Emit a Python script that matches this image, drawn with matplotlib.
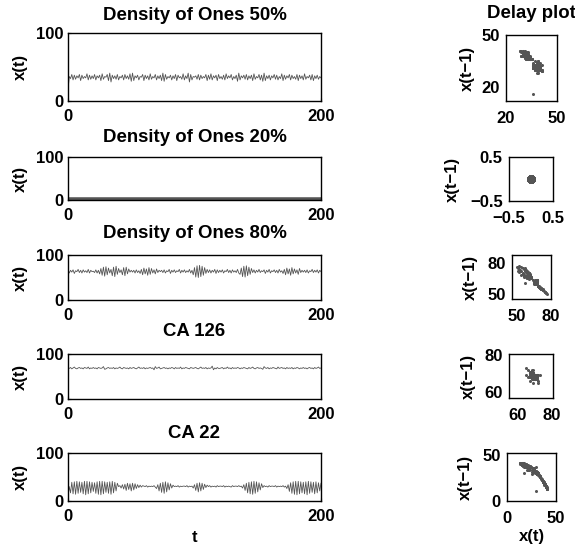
import numpy as np
import matplotlib
matplotlib.use("Agg")
import matplotlib.pyplot as plt

plt.rcParams['font.family'] = ['Liberation Sans', 'DejaVu Sans']
plt.rcParams['font.weight'] = 'bold'
plt.rcParams['axes.labelweight'] = 'bold'
plt.rcParams['axes.titleweight'] = 'bold'
plt.rcParams['font.size'] = 12

titles = ["Density of Ones 50%", "Density of Ones 20%", "Density of Ones 80%", "CA 126", "CA 22"]

d50 = [16,
       36, 33, 39, 31, 38, 32, 37, 34, 39, 30, 38, 33, 36, 34, 40, 31, 38, 32, 37, 33,
       39, 31, 37, 34, 38, 30, 40, 32, 36, 35, 39, 30, 41, 28, 38, 33, 37, 32, 39, 31,
       36, 34, 38, 31, 39, 33, 37, 32, 40, 29, 41, 30, 37, 34, 38, 31, 36, 35, 39, 30,
       38, 33, 37, 31, 40, 32, 36, 34, 39, 31, 37, 33, 38, 30, 41, 29, 39, 32, 36, 34,
       38, 31, 37, 33, 39, 30, 38, 34, 36, 32, 40, 31, 37, 33, 41, 28, 39, 31, 36, 35,
       37, 32, 39, 31, 38, 33, 36, 34, 39, 30, 38, 32, 40, 31, 37, 34, 38, 30, 39, 33,
       36, 32, 38, 31, 40, 33, 37, 34, 39, 31, 36, 33, 38, 29, 41, 31, 37, 34, 38, 32,
       39, 31, 37, 33, 38, 30, 40, 32, 36, 34, 39, 31, 38, 29, 41, 30, 37, 33, 38, 31,
       37, 34, 39, 32, 38, 31, 36, 33, 40, 30, 38, 32, 37, 34, 39, 31, 38, 33, 36, 32,
       39, 30, 38, 33, 37, 31, 40, 32, 36, 34, 38, 31, 39, 30, 37, 33, 38, 32, 36, 34]

d20 = [0] * 201

d80 = [68, 60, 66, 62, 67, 59, 65, 63, 68, 61, 66, 60, 67, 62, 65, 61, 68, 60, 66, 63,
       64, 61, 67, 60, 66,
       58, 70, 55, 73, 53, 74, 56, 71, 60, 68, 54, 73, 52, 75, 57, 70, 61, 67, 56, 72, 54, 73, 58, 69, 62, 66,
       62, 66, 60, 67, 61, 65,
       59, 68, 56, 71, 58, 69, 55, 72, 57, 70, 60, 67, 58, 69, 61, 66, 63,
       66, 61, 67, 60, 65, 63, 68, 59, 66, 62, 67, 61, 65, 63, 68, 60, 66, 62, 67, 61, 65, 62, 68, 60, 66,
       56, 72, 51, 76, 50, 77, 52, 75, 55, 72, 59, 68,
       61, 67, 60, 66, 62, 68, 59, 67, 61, 66, 62, 67, 60, 65, 63, 68, 61, 66, 60, 67, 62, 65, 61, 68, 60,
       57, 71, 52, 75, 51, 76, 54, 73, 57, 70, 61,
       67, 60, 66, 62, 68, 61, 65, 63, 67, 59, 66, 62, 68, 60, 65, 63, 67, 61, 66, 60, 68, 62, 65,
       59, 68, 56, 71, 58, 69, 55, 72, 58, 69, 60, 67, 57, 70, 61, 66, 62,
       66, 61, 67, 60, 65, 63, 68, 61, 66, 62, 67, 60, 66, 63]

ca126 = [69, 68, 70, 67, 69, 71, 68, 67, 69, 70, 68, 69, 67, 70, 69, 68, 71, 67, 69, 68,
         70, 68, 69, 67, 70, 69, 68, 69, 72, 66, 67, 69, 70, 68, 69, 68, 70, 67, 69, 68,
         69, 71, 68, 67, 70, 69, 68, 69, 67, 70, 68, 69, 70, 68, 67, 69, 71, 68, 69, 68,
         70, 67, 69, 68, 69, 70, 68, 69, 65, 72, 68, 69, 71, 67, 68, 69, 70, 68, 69, 67,
         69, 68, 70, 69, 67, 70, 68, 69, 68, 71, 67, 69, 68, 70, 69, 68, 67, 70, 69, 68,
         69, 70, 68, 67, 69, 71, 68, 69, 68, 70, 67, 69, 68, 69, 73, 65, 69, 67, 70, 68,
         68, 69, 70, 67, 69, 68, 71, 68, 69, 67, 70, 68, 69, 68, 70, 69, 67, 69, 68, 70,
         69, 68, 67, 70, 68, 69, 71, 68, 67, 69, 70, 68, 69, 68, 66, 72, 69, 68, 70, 67,
         69, 68, 70, 69, 68, 67, 71, 68, 69, 70, 68, 69, 67, 70, 68, 69, 68, 70, 67, 69,
         68, 70, 69, 67, 69, 68, 70, 68, 69, 67, 69, 70, 68, 69, 67, 70, 68, 69, 71, 68, 69]

ca22 = [10, 30,
        17, 39, 15, 40, 14, 41, 16, 40, 18, 39, 15, 41, 13, 41, 15, 40, 17, 39, 20, 38, 16, 40, 14, 41, 13, 41, 15, 40, 18, 39, 16, 40, 14, 41, 17, 39, 21, 37,
        30, 32, 27, 34, 25, 35, 22, 37, 24, 36, 21, 37, 23, 36, 26, 34, 28, 33, 29, 32,
        31, 30, 32, 29, 31, 30, 31, 30, 32, 29,
        26, 34, 21, 37, 18, 39, 16, 40, 19, 38, 23, 36, 27, 33,
        30, 31, 30, 32, 29, 31, 30, 31, 31, 30, 32, 29, 31, 30, 31,
        27, 34, 22, 37, 19, 38, 21, 37, 24, 35, 28, 33,
        30, 32, 29, 31, 30, 31, 29, 32, 30, 31, 31, 30, 32, 29, 31, 30, 31, 30, 29, 32, 30, 31, 31, 30, 32, 30, 31,
        27, 34, 22, 37, 17, 39, 15, 40, 14, 41, 16, 40, 19, 38, 23, 36, 28,
        32, 30, 31, 29, 32, 30, 31, 31, 30, 32, 29, 31, 30, 31, 30, 32, 29, 31,
        26, 34, 20, 38, 16, 40, 14, 41, 13, 41, 15, 40, 17, 39, 15, 40, 13, 41, 16, 40, 18, 39, 15, 40, 17, 38, 21, 37]

series = [d50, d20, d80, ca126, ca22]

delay_xlim = [(20, 50), (-0.5, 0.5), (45.5, 80.6), (54.7, 80.6), (0, 50)]
delay_ylim = [(12, 50), (-0.5, 0.5), (45, 87.4), (56.8, 80.5), (-0.5, 52.5)]
delay_ticks = [[20, 50], [-0.5, 0.5], [50, 80], [60, 80], [0, 50]]

W, H = 575, 547
fig = plt.figure(figsize=(W / 100, H / 100), dpi=100)

def px_axes(x0, x1, y0, y1):
    return fig.add_axes([x0 / W, 1 - y1 / H, (x1 - x0) / W, (y1 - y0) / H])

left_rows = [(33, 101), (157, 200), (255, 300), (354, 399), (453, 501)]
title_y = [15, 137, 234, 332, 433]
right_boxes = [(506, 557, 35, 101), (509, 553, 157, 201), (512, 551, 255, 299),
               (509, 553, 354, 398), (507, 556, 453, 501)]
right_label_x = [467, 452, 470, 468, 465]

gray = '#555555'

for i, y in enumerate(series):
    y = np.array(y, dtype=float)
    t = np.arange(len(y))
    top, bot = left_rows[i]
    ax = px_axes(68, 321, top, bot)
    ax.plot(t, y, color=gray, lw=4 if i == 1 else 0.6)
    ax.set_xlim(0, 200)
    ax.set_ylim(0, 100)
    ax.set_xticks([0, 200])
    ax.set_yticks([0, 100])
    ax.tick_params(direction='in', length=2, pad=3)
    ax.tick_params(axis='x', pad=5.5)
    ax.set_title(titles[i], fontsize=13.4, pad=0, va='center',
                 y=1 + (top - title_y[i]) / (bot - top))
    ax.set_ylabel('x(t)', va='center')
    ax.yaxis.set_label_coords((20 - 68) / 253, 0.5)
    for s in ax.spines.values():
        s.set_linewidth(1.0)
    if i == 4:
        ax.set_xlabel('t', va='center')
        ax.xaxis.set_label_coords(0.5, -(537 - bot) / (bot - top))

    # delay plot: x(t) against x(t-1)
    x0, x1, ry0, ry1 = right_boxes[i]
    ax2 = px_axes(x0, x1, ry0, ry1)
    ax2.plot(y[1:], y[:-1], 'o', color=gray, ms=6 if i == 1 else 2.2, mew=0)
    ax2.set_xlim(*delay_xlim[i])
    ax2.set_ylim(*delay_ylim[i])
    ax2.set_xticks(delay_ticks[i])
    ax2.set_yticks(delay_ticks[i])
    ax2.tick_params(direction='in', length=0, pad=4.5)
    ax2.tick_params(axis='x', pad=7)
    ax2.set_ylabel('x(t\u22121)', va='center')
    ax2.yaxis.set_label_coords((right_label_x[i] - x0) / (x1 - x0), 0.5)
    for s in ax2.spines.values():
        s.set_linewidth(1.0)
    if i == 0:
        ax2.set_title('Delay plot', fontsize=13.4, pad=0, va='center',
                      y=1 + (ry0 - 14) / (ry1 - ry0))
    if i == 4:
        ax2.set_xlabel('x(t)', va='center')
        ax2.xaxis.set_label_coords(0.5, -(537 - ry1) / (ry1 - ry0))

fig.savefig('out.png', dpi=100)
